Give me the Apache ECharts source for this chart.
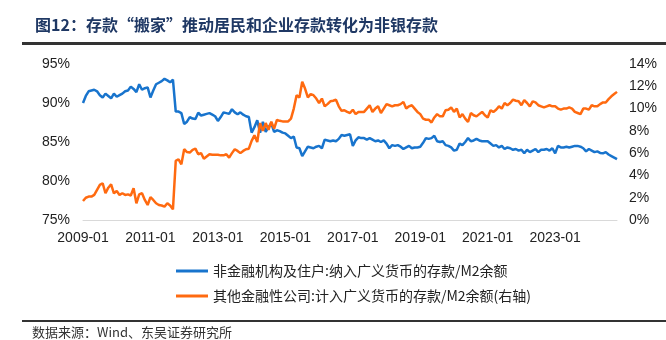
<!DOCTYPE html>
<html>
<head>
<meta charset="utf-8">
<script src="https://cdn.jsdelivr.net/npm/echarts@6/dist/echarts.min.js"></script>
<style>
html,body{margin:0;padding:0;background:#fff;}
#c{width:666px;height:340px;}
</style>
</head>
<body>
<div id="c"></div>
<script>
// Month range of the data
const startYear = 2009;
const monthCount = 191; // 2009-01 .. 2024-11

// Left axis series: 非金融机构及住户:纳入广义货币的存款/M2余额 (%)
const householdCorpShare = [
  90.0, 90.9, 91.5, 91.6, 91.7, 91.5, 91.0, 90.7, 91.2, 90.9, 90.6, 91.2,
  90.8, 91.0, 91.2, 91.5, 91.6, 92.1, 91.8, 91.4, 92.4, 91.7, 91.9, 92.0,
  90.7, 91.6, 92.4, 92.6, 92.8, 93.1, 92.9, 92.65, 93.0, 88.9, 88.9, 88.7,
  87.3, 87.6, 88.2, 88.0, 87.95, 88.75, 88.4, 88.5, 88.6, 88.7, 88.5, 88.3,
  87.7, 88.2, 88.8, 88.7, 88.6, 89.2, 88.8, 88.55, 88.8, 88.5, 88.3, 88.2,
  86.2, 86.9, 87.8, 86.2, 87.6, 86.3, 86.9, 87.4, 86.3, 86.5, 86.4, 86.2,
  86.1, 85.8, 85.5, 85.7, 84.3, 84.2, 83.2, 83.8, 84.4, 84.3, 84.2, 84.4,
  84.5, 84.2, 85.3, 85.2, 85.1, 85.2, 85.1, 85.4, 85.9, 85.8, 85.9, 86.0,
  84.5, 85.2, 85.6, 85.5, 85.5, 85.3, 85.5, 85.3, 85.1, 85.2, 85.0, 85.2,
  84.8, 84.2, 84.6, 84.5, 84.6, 84.4, 84.1, 84.3, 84.5, 84.2, 84.3, 84.3,
  84.4, 84.9, 85.5, 85.4, 85.5, 85.8, 85.1, 85.0, 85.1, 84.6, 84.5, 84.3,
  83.9, 84.0, 84.8, 84.6, 85.0, 85.5, 85.1, 85.2, 85.4, 85.2, 85.1, 85.1,
  85.1, 84.8, 84.5, 84.6, 84.3, 84.5, 84.1, 84.3, 84.2, 84.0, 84.1, 83.9,
  84.0, 83.55, 84.0, 83.7, 83.9, 84.1, 83.7, 84.0, 84.0, 84.1, 83.9, 84.2,
  83.55, 84.5, 84.3, 84.3, 84.4, 84.3, 84.4, 84.5, 84.5, 84.4, 84.2, 83.8,
  84.1, 83.9, 83.7, 83.8, 83.6, 83.55, 83.7, 83.4, 83.2, 83.0, 82.8
];

// Right axis series: 其他金融性公司:计入广义货币的存款/M2余额 (%)
const otherFinancialShare = [
  1.7, 2.0, 2.1, 2.1, 2.25, 2.7, 3.15, 3.3, 2.4, 2.9, 3.2, 2.4,
  2.6, 2.25, 2.4, 2.25, 2.3, 2.2, 2.85, 1.5, 2.3, 2.4, 1.8, 1.35,
  2.05, 1.8, 1.5, 1.35, 1.3, 1.2, 1.5, 1.3, 0.96, 5.3, 5.45, 5.0,
  6.35, 6.1, 6.05, 6.3, 6.4, 5.9, 6.0, 5.5, 5.7, 5.9, 5.85, 5.85,
  5.85, 5.8, 5.8, 5.9, 5.6, 6.0, 6.35, 6.2, 6.0, 6.2, 6.35, 6.4,
  7.1, 7.6, 7.0, 8.7, 8.0, 8.7, 8.1, 8.83, 8.2, 8.98, 8.9, 8.85,
  8.85, 8.85, 9.1, 10.0, 11.2, 11.0, 12.4, 11.8, 11.0, 11.3, 11.2, 10.9,
  10.5, 10.9, 10.2, 10.4, 10.65, 10.7, 10.8, 10.2, 9.8, 9.85, 9.7, 9.6,
  9.9, 9.5, 9.7, 9.7, 9.7, 10.0, 10.3, 9.7, 10.0, 10.2, 9.6, 10.0,
  10.4, 10.3, 10.2, 10.3, 10.3, 10.4, 10.6, 10.0, 10.2, 10.3, 10.0, 9.7,
  9.5, 9.1, 9.0, 9.0, 8.75, 9.2, 9.5, 9.3, 9.3, 9.85, 9.9, 10.1,
  9.7, 10.0, 9.2, 9.5, 9.1, 8.8, 9.6, 9.4, 9.3, 9.5, 9.7, 9.4,
  9.2, 9.85, 9.7, 9.9, 10.2, 10.0, 10.5, 10.3, 10.5, 10.8, 10.7, 10.65,
  10.3, 10.75, 10.5, 10.2, 10.65, 10.55, 10.3, 10.2, 10.1, 10.2, 10.3, 10.2,
  10.2, 10.0, 9.9, 10.0, 10.0, 10.1, 10.0, 9.7, 9.6, 9.5, 10.0, 10.0,
  9.9, 10.3, 10.2, 10.2, 10.4, 10.55, 10.55, 10.85, 11.1, 11.3, 11.5
];

const seriesNames = [
  '非金融机构及住户:纳入广义货币的存款/M2余额',
  '其他金融性公司:计入广义货币的存款/M2余额(右轴)'
];
const titleText = '图12：存款“搬家”推动居民和企业存款转化为非银存款';
const sourceText = '数据来源：Wind、东吴证券研究所';

const months = [];
for (let i = 0; i < monthCount; i++) {
  const y = startYear + Math.floor(i / 12);
  const m = (i % 12) + 1;
  months.push(y + '-' + (m < 10 ? '0' + m : m));
}

const chart = echarts.init(document.getElementById('c'), null, {renderer: 'canvas'});
const axisFont = {fontFamily: 'Liberation Sans, Arial, sans-serif', fontSize: 14, color: '#222'};
chart.setOption({
  animation: false,
  backgroundColor: '#fff',
  title: {
    text: titleText,
    left: 30, top: 12,
    textStyle: {fontFamily: 'Noto Sans CJK SC', fontSize: 16, fontWeight: 'bold', color: '#1f3864'}
  },
  graphic: [
    {type: 'rect', shape: {x: 22, y: 42, width: 644, height: 3}, style: {fill: '#333'}},
    {type: 'rect', shape: {x: 22, y: 320, width: 644, height: 2}, style: {fill: '#333'}},
    {type: 'text', left: 32, top: 326, style: {text: sourceText, font: '13px "Noto Sans CJK SC"', fill: '#333'}}
  ],
  grid: {left: 83, right: 49, top: 64, bottom: 120, containLabel: false},
  legend: {
    orient: 'vertical',
    left: 171, top: 259,
    icon: 'rect',
    itemWidth: 32, itemHeight: 3, itemGap: 11,
    textStyle: {fontFamily: 'Noto Sans CJK SC', fontSize: 14, color: '#222', padding: [0, 0, 0, 0]},
    data: seriesNames
  },
  xAxis: {
    type: 'category',
    data: months,
    boundaryGap: false,
    axisLine: {lineStyle: {color: '#d9d9d9', width: 1}},
    axisTick: {show: false},
    axisLabel: Object.assign({interval: 23, margin: 11}, axisFont),
    splitLine: {show: false}
  },
  yAxis: [
    {
      type: 'value', min: 75, max: 95, interval: 5,
      axisLine: {show: false}, axisTick: {show: false}, splitLine: {show: false},
      axisLabel: Object.assign({formatter: '{value}%', margin: 13}, axisFont)
    },
    {
      type: 'value', min: 0, max: 14, interval: 2,
      axisLine: {show: false}, axisTick: {show: false}, splitLine: {show: false},
      axisLabel: Object.assign({formatter: '{value}%', margin: 12}, axisFont)
    }
  ],
  series: [
    {
      name: seriesNames[0], type: 'line', yAxisIndex: 0,
      data: householdCorpShare, symbol: 'none',
      lineStyle: {color: '#1874CD', width: 2.5}, itemStyle: {color: '#1874CD'}
    },
    {
      name: seriesNames[1], type: 'line', yAxisIndex: 1,
      data: otherFinancialShare, symbol: 'none',
      lineStyle: {color: '#FF6A10', width: 2.5}, itemStyle: {color: '#FF6A10'}
    }
  ]
});
</script>
</body>
</html>
